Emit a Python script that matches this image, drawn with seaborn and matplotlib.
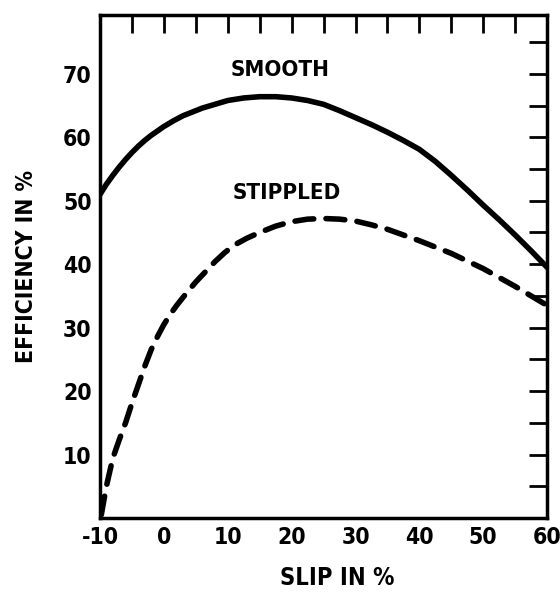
import matplotlib
matplotlib.use("Agg")
import matplotlib.pyplot as plt
from matplotlib.ticker import MultipleLocator, FixedLocator
import pandas as pd
import seaborn as sns

# values
smooth_slip = [-10, -9, -8, -7, -6, -5, -4, -3, -2, -1, 0, 1.5, 3, 4.5, 6, 8, 10, 12.5, 15,
               17.5, 20, 22.5, 25, 27.5, 30, 32.5, 35, 37.5, 40, 42.5, 45, 47.5, 50, 52.5,
               55, 57.5, 60]
smooth_eff = [51, 52.6, 54, 55.3, 56.5, 57.6, 58.6, 59.5, 60.3, 61.0, 61.7, 62.6, 63.4,
              64.0, 64.6, 65.2, 65.8, 66.2, 66.4, 66.4, 66.2, 65.8, 65.2, 64.2, 63.1,
              62.0, 60.8, 59.5, 58.1, 56.2, 54.0, 51.7, 49.3, 47.0, 44.6, 42.1, 39.5]

stippled_slip = [-9.8, -9, -8, -7, -6, -5, -4, -3, -2, -1, 0, 1, 2, 3.5, 5, 6.5, 8, 9.5,
                 11, 13, 15, 17.5, 20, 22.5, 25, 27.5, 30, 32.5, 35, 37.5, 40, 42.5, 45,
                 47.5, 50, 52.5, 55, 57.5, 60]
stippled_eff = [0.5, 5, 9.4, 12.3, 15, 18.1, 21, 23.9, 26.5, 28.6, 30.5, 32.1, 33.5, 35.4,
                37.2, 38.8, 40.4, 41.8, 43, 44.1, 45, 46.0, 46.7, 47.1, 47.2, 47.1, 46.8,
                46.2, 45.5, 44.6, 43.7, 42.7, 41.7, 40.5, 39.3, 37.9, 36.5, 35.0, 33.5]

x_labels = [-10, 0, 10, 20, 30, 40, 50, 60]
y_labels = [10, 20, 30, 40, 50, 60, 70]

sns.set_theme(style="white")
plt.rcParams["font.family"] = ["DejaVu Sans"]
plt.rcParams["font.stretch"] = "condensed"
plt.rcParams["font.weight"] = "bold"
plt.rcParams["text.color"] = "black"

df_smooth = pd.DataFrame({"slip": smooth_slip, "eff": smooth_eff})
df_stip = pd.DataFrame({"slip": stippled_slip, "eff": stippled_eff})

fig = plt.figure(figsize=(5.6, 5.94), dpi=100)
ax = fig.add_axes([0.1786, 0.128, 0.7984, 0.847])

sns.lineplot(data=df_smooth, x="slip", y="eff", color="black", linewidth=4,
             estimator=None, ax=ax, solid_capstyle="round", solid_joinstyle="round")
sns.lineplot(data=df_stip, x="slip", y="eff", color="black", linewidth=4,
             estimator=None, ax=ax, linestyle=(0, (3.4, 2.2)), dash_capstyle="round")

ax.set_xlim(-10, 60)
ax.set_ylim(0, 79.3)

ax.xaxis.set_major_locator(FixedLocator(x_labels))
ax.xaxis.set_minor_locator(MultipleLocator(5))
ax.yaxis.set_major_locator(FixedLocator(y_labels))
ax.yaxis.set_minor_locator(FixedLocator([5, 15, 25, 35, 45, 55, 65, 75]))

ax.tick_params(which="both", direction="in", top=True, right=True,
               length=13, width=2, color="black")
ax.tick_params(axis="both", which="major", labelsize=16.5, pad=6, labelcolor="black")
ax.set_xticklabels([str(v) for v in x_labels], fontweight="bold")
ax.set_yticklabels([str(v) for v in y_labels], fontweight="bold")

for sp in ax.spines.values():
    sp.set_linewidth(2.5)
    sp.set_color("black")

ax.set_xlabel("SLIP IN %", fontsize=17, fontweight="bold", color="black")
ax.xaxis.set_label_coords(0.53, -0.095)
ax.set_ylabel("EFFICIENCY IN %", fontsize=16.5, fontweight="bold", color="black",
              labelpad=18)

ax.text(18.2, 70.6, "SMOOTH", fontsize=16, fontweight="bold", ha="center", va="center",
        color="black")
ax.text(19.3, 51.2, "STIPPLED", fontsize=16, fontweight="bold", ha="center", va="center",
        color="black")

fig.savefig("out.png", dpi=100)
